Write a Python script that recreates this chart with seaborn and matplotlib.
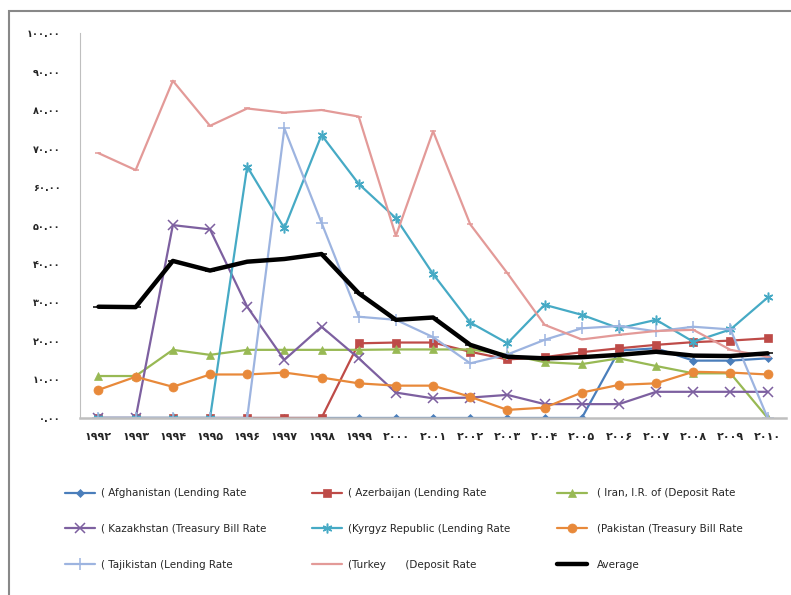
import numpy as np
import pandas as pd
import seaborn as sns
import matplotlib.pyplot as plt
from matplotlib.patches import Rectangle
from matplotlib import font_manager

# Persian digits for the tick labels
fa = str.maketrans("0123456789", "۰۱۲۳۴۵۶۷۸۹")

years = [str(y) for y in range(1992, 2011)]

afghanistan = [0, 0, 0, 0, 0, 0, 0, 0, 0, 0, 0, 0, 0, 0, 17.5, 18.1, 14.9, 14.9, 15.5]
azerbaijan = [0, 0, 0, 0, 0, 0, 0, 19.4, 19.6, 19.6, 17.2, 15.2, 15.8, 17.1, 18.1, 19.0, 19.7, 20.1, 20.7]
iran = [10.9, 10.9, 17.7, 16.4, 17.7, 17.7, 17.7, 17.7, 17.8, 17.8, 17.8, 16.5, 14.5, 14.0, 15.5, 13.5, 11.6, 11.6, 0]
kazakhstan = [0, 0, 50.1, 49.0, 28.9, 15.1, 23.7, 15.5, 6.6, 5.1, 5.3, 6.0, 3.6, 3.6, 3.6, 6.8, 6.8, 6.8, 6.8]
kyrgyz = [0, 0, 0, 0, 65.3, 49.3, 73.5, 60.8, 51.9, 37.4, 24.8, 19.4, 29.4, 26.8, 23.3, 25.5, 19.8, 23.0, 31.3]
pakistan = [7.3, 10.7, 8.1, 11.3, 11.3, 11.8, 10.5, 9.0, 8.4, 8.4, 5.5, 2.1, 2.7, 6.6, 8.6, 9.0, 12.0, 11.8, 11.3]
tajikistan = [0, 0, 0, 0, 0, 75.2, 50.7, 26.3, 25.5, 21.0, 14.2, 16.5, 20.3, 23.3, 23.9, 22.5, 23.7, 23.0, 0]
turkey = [68.8, 64.4, 87.6, 75.9, 80.4, 79.3, 80.0, 78.3, 47.3, 74.5, 50.3, 37.6, 24.2, 20.4, 21.6, 22.6, 22.9, 17.7, 15.9]
average = [28.9, 28.8, 40.8, 38.3, 40.6, 41.3, 42.6, 32.4, 25.5, 26.1, 19.0, 15.9, 15.5, 15.8, 16.4, 17.2, 16.2, 16.1, 16.8]

labels = ["( Afghanistan (Lending Rate", "( Azerbaijan (Lending Rate", "( Iran, I.R. of (Deposit Rate",
          "( Kazakhstan (Treasury Bill Rate", "(Kyrgyz Republic (Lending Rate", "(Pakistan (Treasury Bill Rate",
          "( Tajikistan (Lending Rate", "(Turkey      (Deposit Rate", "Average"]
colors = ["#4A7EBB", "#BE4B48", "#98B954", "#7D60A0", "#46AAC5", "#E8893A", "#9DB4E0", "#E39A98", "black"]
markers = ["D", "s", "^", "x", (6, 2, 0), "o", "+", "_", "_"]
msizes = [4.5, 6, 6, 6.5, 7, 6.5, 8, 5, 7]
widths = [1.6, 1.6, 1.6, 1.6, 1.6, 1.6, 1.6, 1.6, 3.2]

series = [afghanistan, azerbaijan, iran, kazakhstan, kyrgyz, pakistan, tajikistan, turkey, average]
df = pd.DataFrame({"year": years * len(series),
                   "value": np.concatenate(series),
                   "series": np.repeat(labels, len(years))})

sns.set_style("white")
plt.rcParams['font.family'] = ['DejaVu Sans']

fig = plt.figure(figsize=(7.91, 5.95), dpi=100)
ax = fig.add_axes([0.101, 0.2975, 0.893, 0.647])

for lab, col, mk, ms, lw in zip(labels, colors, markers, msizes, widths):
    sub = df[df["series"] == lab]
    thin = not isinstance(mk, str) or mk in ["x", "+", "_"]
    sns.lineplot(data=sub, x="year", y="value", ax=ax, color=col, marker=mk, markersize=ms,
                 linewidth=lw, label=lab, sort=False, markeredgecolor=col,
                 markeredgewidth=1.1 if thin else 0.5)

ax.set_xlim(-0.5, len(years) - 0.5)
ax.set_ylim(0, 100)
ax.set_yticks(np.arange(0, 101, 10))
ax.set_yticklabels([f"{v:.2f}".translate(fa) for v in range(0, 101, 10)], fontsize=7, fontweight="bold")
ax.set_xticks(range(len(years)))
ax.set_xticklabels([y.translate(fa) for y in years], fontsize=8, fontweight="bold")
ax.tick_params(axis="y", length=0, pad=14)
ax.tick_params(axis="x", length=0, pad=10)
ax.set_xlabel("")
ax.set_ylabel("")
sns.despine(ax=ax)
ax.spines["left"].set_color("#BFBFBF")
ax.spines["bottom"].set_color("#BFBFBF")
ax.spines["bottom"].set_linewidth(1.8)

# legend: three columns, each placed on its own
handles, labs = ax.get_legend_handles_labels()
ax.get_legend().remove()
names = [f.name for f in font_manager.fontManager.ttflist]
fam = ['Liberation Sans Narrow', 'DejaVu Sans'] if 'Liberation Sans Narrow' in names else ['DejaVu Sans']
size = 9 if len(fam) == 2 else 7.5
col_x = [65, 312, 557]
for c in range(3):
    idx = [c, c + 3, c + 6]
    leg = fig.legend([handles[i] for i in idx], [labs[i] for i in idx], loc="center left",
                     bbox_to_anchor=(col_x[c] / 791, 1 - 529 / 595), frameon=False,
                     prop={"family": fam, "size": size}, handlelength=2.9,
                     handletextpad=0.6 if c < 2 else 0.9, labelspacing=2.45,
                     borderpad=0, borderaxespad=0)

fig.add_artist(Rectangle((9 / 791, -0.2), 1.2, 1.2 - 11 / 595, transform=fig.transFigure,
                         fill=False, edgecolor="#888888", linewidth=1.5))

fig.savefig("out.png", dpi=100)
